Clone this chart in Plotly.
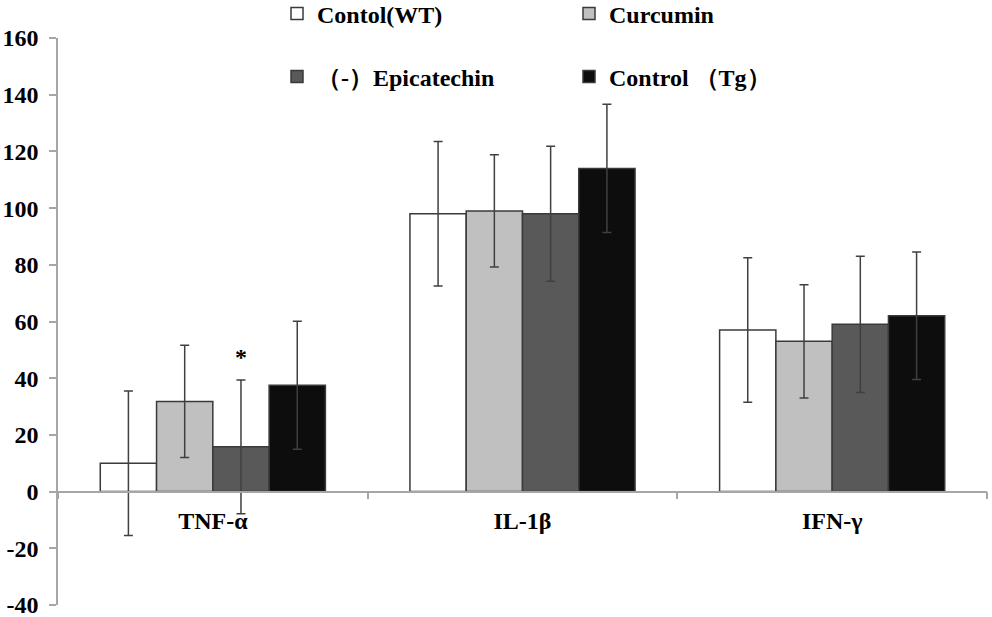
import plotly.graph_objects as go

categories = ["TNF-α", "IL-1β", "IFN-γ"]
series_names = ["Contol(WT)", "Curcumin", "（-）Epicatechin", "Control （Tg）"]
wt_vals = [10.0, 98.0, 57.0]
wt_err = [25.5, 25.5, 25.5]
cur_vals = [31.8, 99.0, 53.0]
cur_err = [19.8, 19.8, 20.0]
epi_vals = [15.8, 98.0, 59.0]
epi_err = [23.6, 23.8, 24.0]
tg_vals = [37.5, 114.0, 62.0]
tg_err = [22.6, 22.6, 22.5]
y_ticks = [-40, -20, 0, 20, 40, 60, 80, 100, 120, 140, 160]
y_tick_labels = [str(v) for v in y_ticks]

values = [wt_vals, cur_vals, epi_vals, tg_vals]
errors = [wt_err, cur_err, epi_err, tg_err]
colors = ["#ffffff", "#c0c0c0", "#595959", "#0d0d0d"]
legends = ["legend", "legend", "legend2", "legend2"]

FONT = "Liberation Serif"
AX = "#a6a6a6"
H_PAPER = 617 - 12
TOP = 38
DOM_TOP = (H_PAPER - TOP) / H_PAPER

bold = dict(family=FONT, size=24, color="#000", weight="bold")

fig = go.Figure()
for name, v, e, c, lg in zip(series_names, values, errors, colors, legends):
    fig.add_trace(go.Bar(
        name=name, x=categories, y=v, legend=lg,
        marker=dict(color=c, line=dict(color="#3a3a3a", width=1.5)),
        error_y=dict(type="data", array=e, visible=True, color="#404040",
                     thickness=1.5, width=4.5),
    ))

fig.add_annotation(x="TNF-α", y=49, xref="x", yref="y", text="*",
                   showarrow=False, xshift=28.5, yshift=-4, font=bold)

legend_common = dict(orientation="h", xanchor="left", yanchor="middle",
                     bgcolor="rgba(0,0,0,0)", entrywidth=247, entrywidthmode="pixels",
                     font=bold, traceorder="normal")

fig.update_layout(
    width=992, height=617,
    margin=dict(l=58, r=5, t=0, b=12, autoexpand=False),
    paper_bgcolor="white", plot_bgcolor="white",
    barmode="group", bargap=0.273, bargroupgap=0,
    font=bold,
    legend=dict(x=(277 - 58) / 929, y=1 - 14 / H_PAPER, **legend_common),
    legend2=dict(x=(277 - 58) / 929, y=1 - 77 / H_PAPER, **legend_common),
    xaxis=dict(type="category", range=[-0.5, 2.5], anchor="free", position=0.2 * DOM_TOP,
               showline=True, linecolor=AX, linewidth=1.5, automargin=False,
               ticks="outside", tickson="boundaries", ticklen=7, tickcolor=AX,
               tickwidth=1.5, showgrid=False, zeroline=False, tickfont=bold,
               ticklabelstandoff=8),
    yaxis=dict(range=[-40, 160], domain=[0, DOM_TOP], tickmode="array",
               tickvals=y_ticks, ticktext=y_tick_labels, showline=True,
               linecolor=AX, linewidth=1.5, ticks="outside", ticklen=7, tickcolor=AX,
               tickwidth=1.5, showgrid=False, zeroline=False, ticklabelstandoff=6,
               ticklabeloverflow="allow", automargin=False, tickfont=bold),
)

fig.write_html("out.html", config={"displayModeBar": False},
               post_script="document.body.style.margin='0';")
